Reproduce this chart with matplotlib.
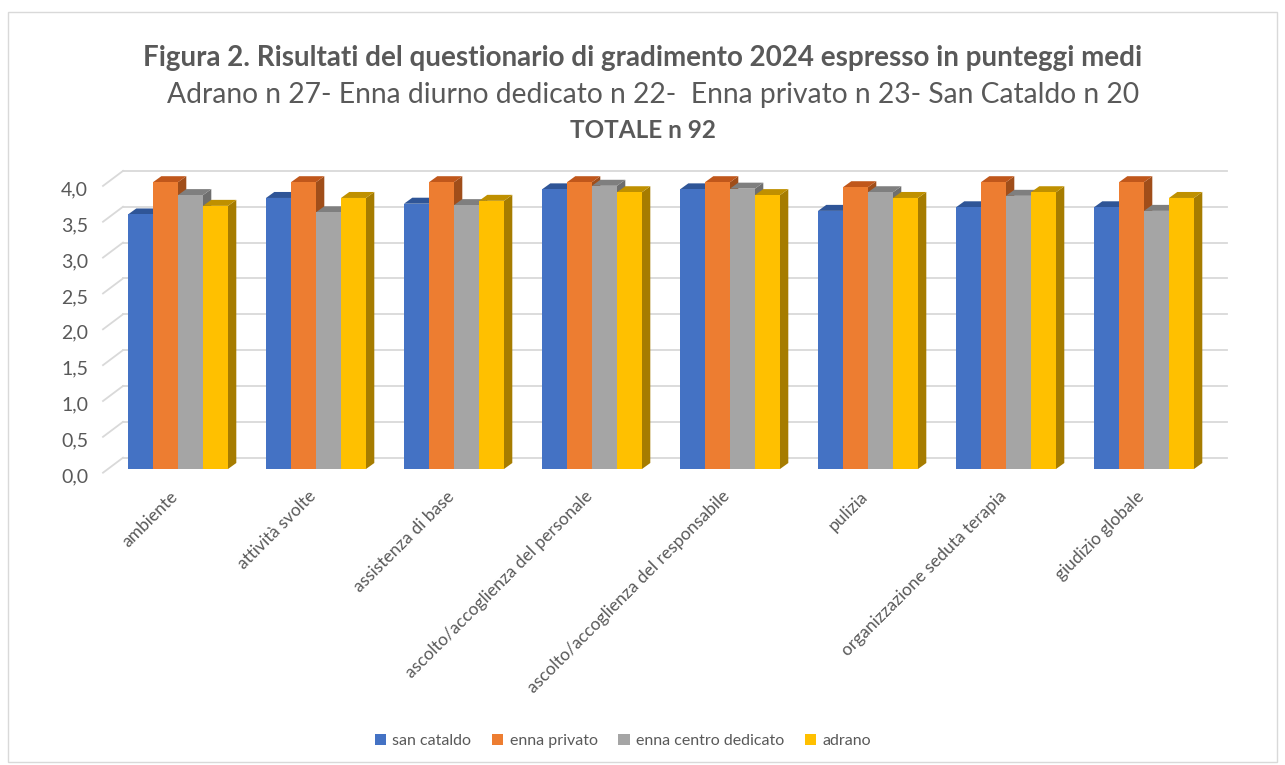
import matplotlib
matplotlib.use("Agg")
import matplotlib.pyplot as plt
from matplotlib.patches import Polygon, Rectangle
import numpy as np

plt.rcParams['font.family'] = ['Lato', 'DejaVu Sans']

# dati (punteggi medi)
categorie = ['ambiente', 'attività svolte', 'assistenza di base',
             'ascolto/accoglienza del personale', 'ascolto/accoglienza del responsabile',
             'pulizia', 'organizzazione seduta terapia', 'giudizio globale']
san_cataldo = [3.55, 3.78, 3.70, 3.90, 3.90, 3.60, 3.65, 3.65]
enna_privato = [4.00, 4.00, 4.00, 4.00, 4.00, 3.93, 4.00, 4.00]
enna_centro = [3.82, 3.58, 3.68, 3.95, 3.91, 3.86, 3.81, 3.60]
adrano = [3.67, 3.78, 3.74, 3.86, 3.82, 3.78, 3.86, 3.78]
serie = ['san cataldo', 'enna privato', 'enna centro dedicato', 'adrano']
yticks = np.arange(0, 4.01, 0.5)

valori = [san_cataldo, enna_privato, enna_centro, adrano]
col_front = ['#4472C4', '#ED7D31', '#A5A5A5', '#FFC000']
col_top = ['#2F5597', '#C0571B', '#7F7F7F', '#BF9000']
col_side = ['#2F4F8F', '#A04E1A', '#6E6E6E', '#A67C00']

W, H = 1285, 765
fig = plt.figure(figsize=(W / 100, H / 100), dpi=100)

# scala in pixel per unità
px_x = 138.0
px_y = 71.7
x0_px = 178.0      # centro primo gruppo
y0_px = 457.7      # zero sulla parete di fondo

left_px, right_px = 103, 1227
top_px, bot_px = 160, 473
ax = fig.add_axes([left_px / W, 1 - bot_px / H, (right_px - left_px) / W, (bot_px - top_px) / H])
ax.set_xlim((left_px - x0_px) / px_x, (right_px - x0_px) / px_x)
ax.set_ylim((y0_px - bot_px) / px_y, (y0_px - top_px) / px_y)
ax.axis('off')

grid_c = '#D9D9D9'
wall_x = (123 - x0_px) / px_x
front_x = (103 - x0_px) / px_x
diag = 15 / px_y
for v in yticks:
    ax.plot([wall_x, (right_px - x0_px) / px_x], [v, v], color=grid_c, lw=1.3, zorder=1, clip_on=False)
    ax.plot([front_x, wall_x], [v - diag, v], color=grid_c, lw=1.3, zorder=1, clip_on=False)
    ax.text((88 - x0_px) / px_x, v - diag - 4 / px_y, f'{v:.1f}'.replace('.', ','),
            ha='right', va='center', fontsize=14, color='#595959')

bw = 25 / px_x
dyf = 11.3 / px_y
ddx = 8.3 / px_x
ddy = 6 / px_y
z = 2
for i in range(len(categorie)):
    for j, vals in enumerate(valori):
        xa = i + (j - 2) * bw
        xb = xa + bw
        b = -dyf
        t = vals[i] - dyf
        ax.add_patch(Polygon([(xb, b), (xb + ddx, b + ddy), (xb + ddx, t + ddy), (xb, t)],
                             closed=True, fc=col_side[j], ec='none', zorder=z))
        ax.add_patch(Polygon([(xa, t), (xb, t), (xb + ddx, t + ddy), (xa + ddx, t + ddy)],
                             closed=True, fc=col_top[j], ec='none', zorder=z))
        ax.bar(xa, t - b, bottom=b, width=bw, align='edge', color=col_front[j],
               edgecolor='none', zorder=z + 0.5)
        z += 1
    ax.text(i - 8 / px_x, (y0_px - 488) / px_y, categorie[i], rotation=45,
            rotation_mode='anchor', ha='right', va='top', fontsize=12.5, color='#595959')

# titolo
fig.text(0.5, 1 - 58 / H, 'Figura 2. Risultati del questionario di gradimento 2024 espresso in punteggi medi',
         ha='center', va='center', fontsize=20, fontweight='bold', color='#595959')
fig.text(653 / W, 1 - 95 / H, 'Adrano n 27- Enna diurno dedicato n 22-  Enna privato n 23- San Cataldo n 20',
         ha='center', va='center', fontsize=20.3, color='#595959')
fig.text(0.5, 1 - 131 / H, 'TOTALE n 92', ha='center', va='center', fontsize=17.5,
         fontweight='bold', color='#595959')

# legenda
handles = [Rectangle((0, 0), 1, 1, fc=c, ec='none') for c in col_front]
fig.legend(handles, serie, loc='center', bbox_to_anchor=(623 / W, 1 - 741 / H), ncol=4,
           frameon=False, fontsize=11.5, handlelength=0.7, handleheight=0.7,
           columnspacing=1.3, handletextpad=0.4, labelcolor='#595959')

# cornice
fig.patches.append(Rectangle((8 / W, 3 / H), 1269 / W, 750 / H, transform=fig.transFigure,
                             fill=False, ec='#D9D9D9', lw=1))

fig.savefig('out.png', dpi=100)
